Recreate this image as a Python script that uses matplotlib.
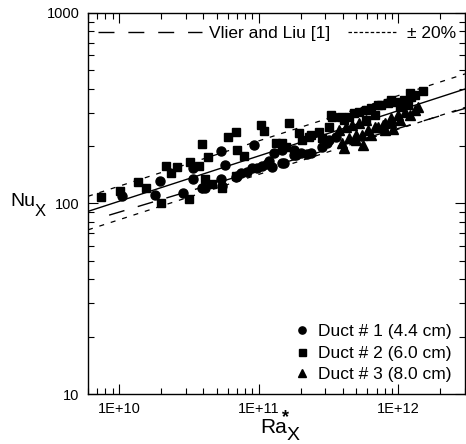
import numpy as np
import matplotlib
matplotlib.use('Agg')
import matplotlib.pyplot as plt
from matplotlib.lines import Line2D

plt.rcParams['font.family'] = ['Liberation Sans', 'DejaVu Sans']
plt.rcParams['lines.scale_dashes'] = False

# Duct # 1 (4.4 cm) - circles
ra_duct1 = [1.05e10, 1.80e10, 1.96e10, 2.85e10, 3.36e10, 3.36e10, 3.90e10, 4.16e10,
            5.41e10, 5.78e10, 5.41e10, 5.50e10, 9.29e10, 7.50e10, 8.28e10, 8.99e10,
            7.03e10, 9.75e10, 1.06e11, 1.15e11, 1.25e11, 1.52e11, 1.85e11, 2.21e11,
            2.83e11, 3.18e11, 3.56e11, 1.29e11, 1.47e11, 1.79e11, 2.01e11, 2.36e11,
            3.07e11, 1.19e11, 1.47e11, 1.79e11, 6.92e10]
nu_duct1 = [110, 111, 131, 113, 153, 134, 121, 120,
            188, 160, 134, 124, 202, 144, 146, 153,
            140, 153, 158, 162, 155, 164, 179, 183,
            197, 215, 223, 185, 190, 190, 185, 185,
            209, 168, 164, 179, 137]

# Duct # 2 (6.0 cm) - squares
ra_duct2 = [7.4e9, 1.02e10, 1.37e10, 1.56e10, 2.16e10, 2.34e10, 2.59e10, 3.25e10,
            3.71e10, 1.99e10, 3.15e10, 3.96e10, 4.37e10, 6.07e10, 6.92e10, 7.03e10,
            7.88e10, 4.16e10, 4.67e10, 5.50e10, 6.92e10, 1.04e11, 1.09e11, 1.33e11,
            1.65e11, 1.94e11, 3.34e11, 2.70e11, 4.41e11, 4.78e11, 5.19e11, 5.82e11,
            6.42e11, 7.57e11, 8.49e11, 9.52e11, 1.09e12, 1.24e12, 1.51e12, 1.32e12,
            1.03e12, 1.18e12, 2.29e11, 2.04e11, 1.47e11, 1.57e11, 3.18e11, 4.06e11,
            5.82e11, 6.86e11, 3.28e11, 3.87e11, 2.36e11, 2.83e11, 8.91e11, 1.22e12,
            7.20e11]
nu_duct2 = [108, 117, 129, 121, 157, 144, 155, 166,
            157, 100, 106, 205, 175, 223, 236, 190,
            177, 135, 127, 120, 140, 257, 239, 207,
            264, 234, 284, 236, 284, 298, 301, 309,
            316, 328, 336, 340, 348, 361, 389, 370,
            320, 328, 223, 215, 207, 197, 251, 273,
            273, 290, 290, 284, 228, 220, 348, 379,
            328]

# Duct # 3 (8.0 cm) - triangles
ra_duct3 = [3.93e11, 4.41e11, 4.94e11, 5.45e11, 6.11e11, 6.86e11, 7.82e11, 8.91e11,
            1.03e12, 1.22e12, 1.32e12, 1.39e12, 4.94e11, 6.32e11, 8.08e11, 7.20e11,
            8.08e11, 8.91e11, 1.00e12, 1.12e12, 3.74e11, 4.20e11, 4.63e11, 5.19e11,
            5.82e11, 4.06e11, 5.60e11, 9.20e11]
nu_duct3 = [207, 220, 228, 228, 242, 251, 257, 267,
            273, 290, 309, 320, 215, 228, 242, 251,
            264, 280, 290, 301, 242, 251, 257, 264,
            273, 195, 202, 245]

# correlations
fit_c, fit_n = 0.428, 0.238          # present data fit (solid)
vliet_c, vliet_n = 0.568, 0.22       # Vliet and Liu [1]
ra_fit = [6e9, 3e12]
ra_vliet = [8.5e9, 3e12]

fig = plt.figure(figsize=(4.66, 4.44), dpi=100)
ax = fig.add_axes([88 / 466, 50 / 444, 377 / 466, 381 / 444])

rf = np.array(ra_fit)
rv = np.array(ra_vliet)
ax.plot(rf, fit_c * rf ** fit_n, color='black', lw=1.0)
ax.plot(rf, 1.2 * fit_c * rf ** fit_n, color='black', lw=0.9, dashes=(3.6, 5.0))
ax.plot(rf, 0.8 * fit_c * rf ** fit_n, color='black', lw=0.9, dashes=(3.6, 5.0))
ax.plot(rv, vliet_c * rv ** vliet_n, color='black', lw=1.0, dashes=(11.5, 10.0))

m1, = ax.plot(ra_duct1, nu_duct1, 'o', color='black', ms=6.5, ls='none',
              label='Duct # 1 (4.4 cm)')
m2, = ax.plot(ra_duct2, nu_duct2, 's', color='black', ms=6.3, ls='none',
              label='Duct # 2 (6.0 cm)')
m3, = ax.plot(ra_duct3, nu_duct3, '^', color='black', ms=7.0, ls='none',
              label='Duct # 3 (8.0 cm)')

ax.set_xscale('log')
ax.set_yscale('log')
ax.set_xlim(6e9, 3e12)
ax.set_ylim(10, 1000)

ax.set_xticks([1e10, 1e11, 1e12])
ax.set_xticklabels(['1E+10', '1E+11', '1E+12'])
ax.set_yticks([10, 100, 1000])
ax.set_yticklabels(['10', '100', '1000'])
ax.tick_params(which='both', direction='in', top=True, right=True, labelsize=10.5)
ax.tick_params(which='major', length=7, width=0.8, pad=6)
ax.tick_params(which='minor', length=4, width=0.8)
for s in ax.spines.values():
    s.set_linewidth(1.0)

# legends
h_vliet = Line2D([], [], color='black', lw=1.0, dashes=(11.5, 10.0))
h_pm = Line2D([], [], color='black', lw=0.9, dashes=(2.5, 1.5))
leg1 = ax.legend([h_vliet], ['Vlier and Liu [1]'], loc='center left',
                 bbox_to_anchor=(0.0265, 0.9475), frameon=False, fontsize=12.5,
                 handlelength=6.0, handletextpad=0.4, borderpad=0, borderaxespad=0)
ax.add_artist(leg1)
leg2 = ax.legend([h_pm], ['\u00b1 20%'], loc='center left',
                 bbox_to_anchor=(0.69, 0.9475), frameon=False, fontsize=12.5,
                 handlelength=2.8, handletextpad=0.6, borderpad=0, borderaxespad=0)
ax.add_artist(leg2)
ax.legend(handles=[m1, m2, m3], loc='center left', bbox_to_anchor=(0.545, 0.1076),
          frameon=False, fontsize=12.5, handlelength=1.0, handletextpad=0.4,
          labelspacing=0.36, borderpad=0, borderaxespad=0, markerscale=0.8)

# axis labels
fig.text(10 / 466, (444 - 206) / 444, 'Nu', fontsize=14, va='baseline', ha='left')
fig.text(35 / 466, (444 - 216) / 444, 'X', fontsize=12, va='baseline', ha='left')
fig.text(260 / 466, (444 - 433) / 444, 'Ra', fontsize=15, va='baseline', ha='left')
fig.text(285 / 466, (444 - 418) / 444, '*', fontsize=13, fontweight='bold',
         va='center', ha='center')
fig.text(287 / 466, (444 - 440) / 444, 'X', fontsize=14, va='baseline', ha='left')

fig.savefig('out.png', dpi=100)
